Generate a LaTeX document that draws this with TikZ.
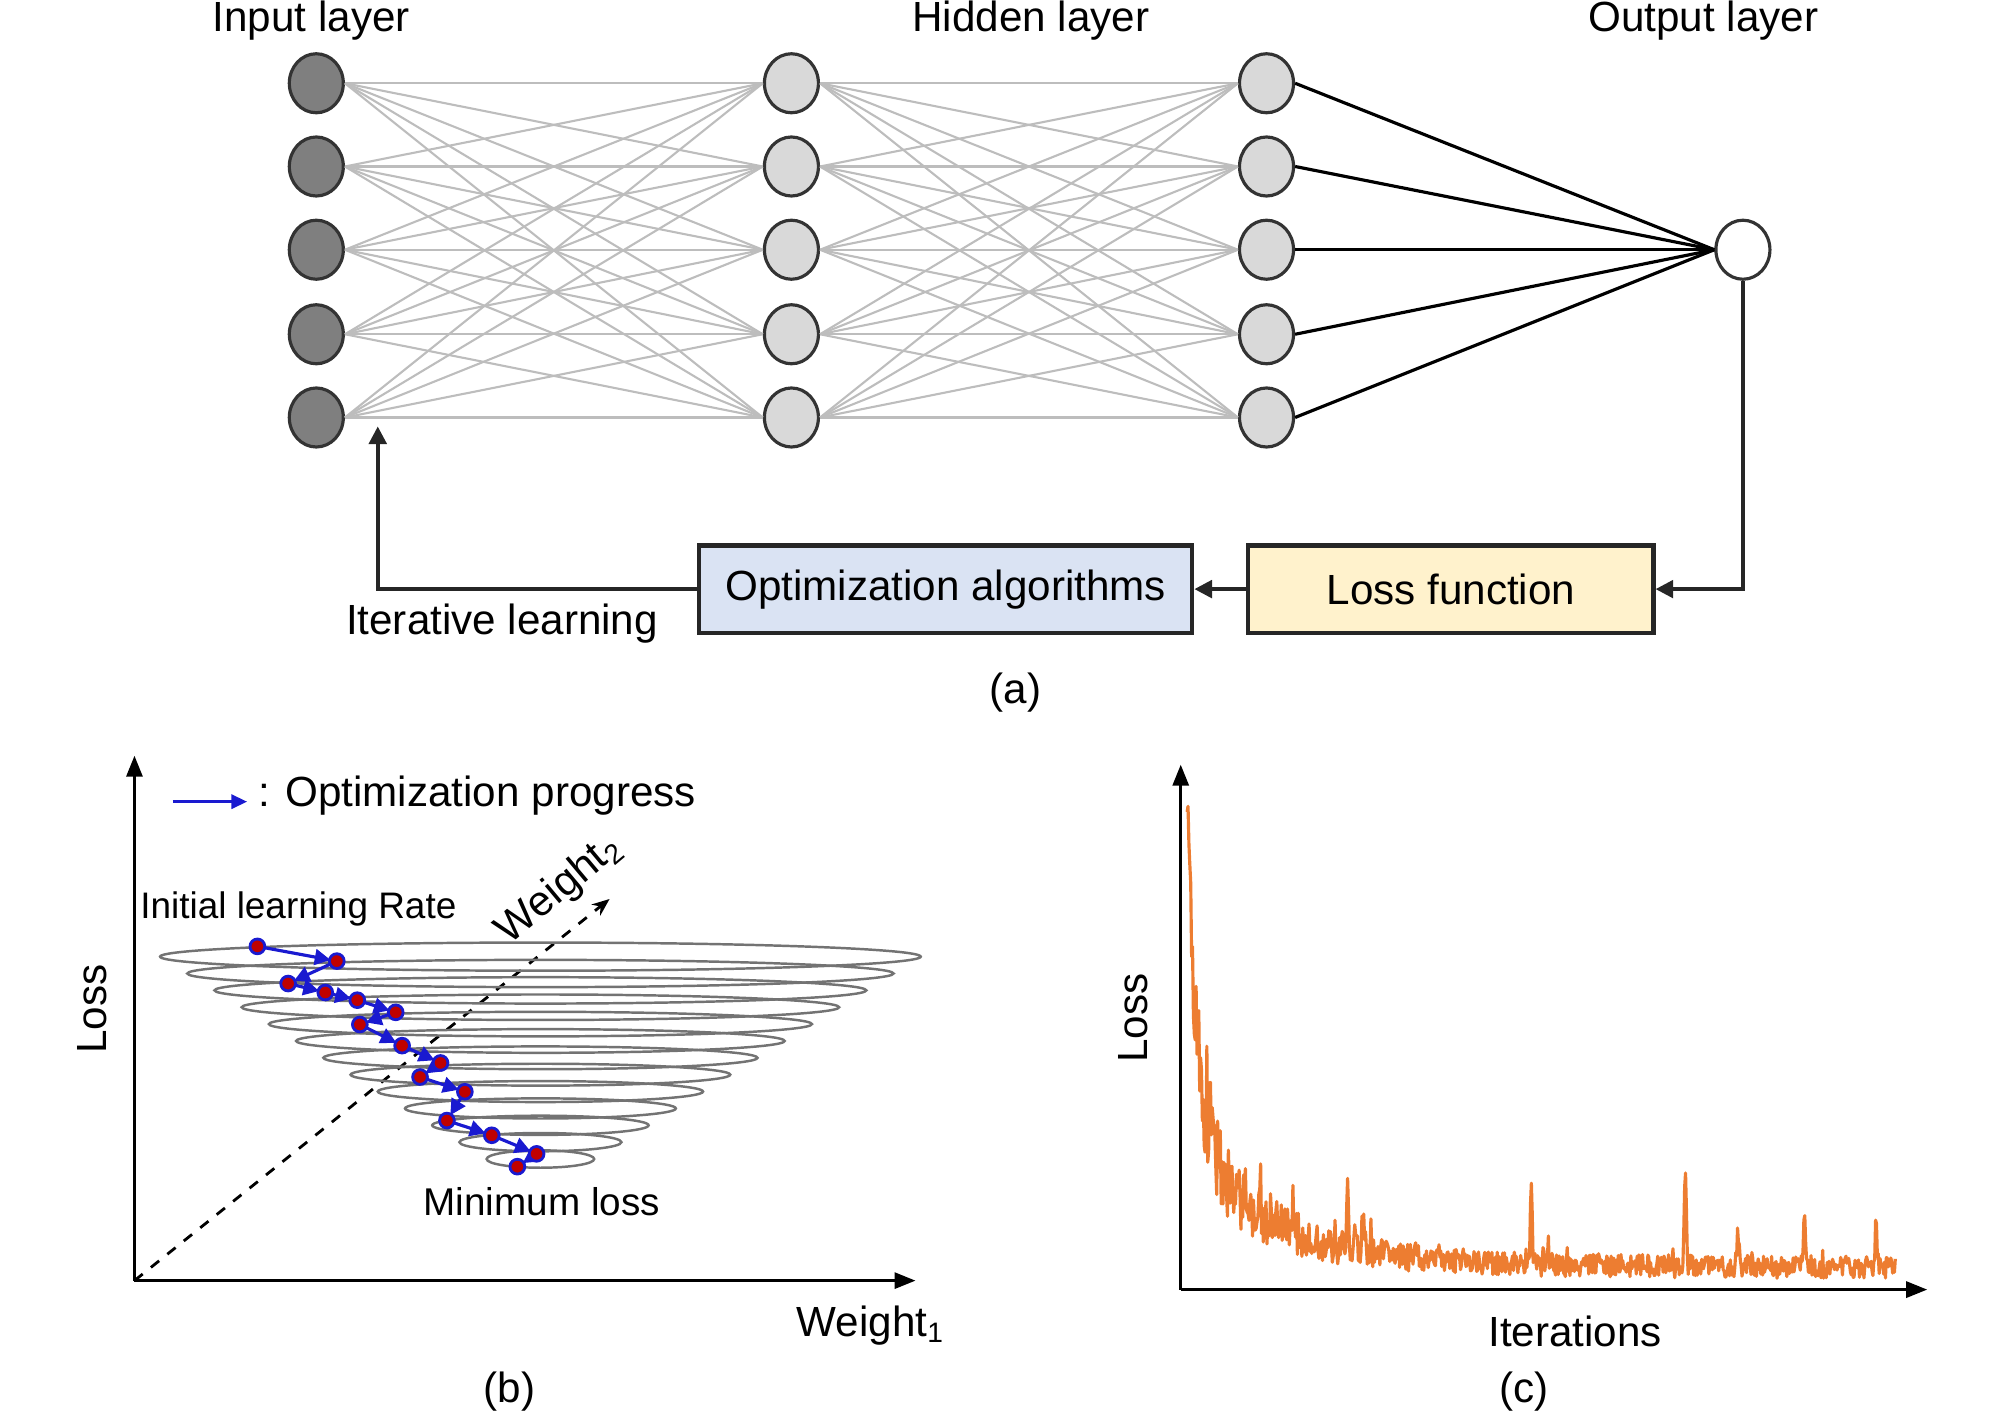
\documentclass[tikz,border=0pt]{standalone}
\usepackage{fontspec}
\setmainfont{Liberation Sans}
\usetikzlibrary{arrows.meta,shapes.geometric,calc}
\definecolor{inputfill}{HTML}{7F7F7F}
\definecolor{hidfill}{HTML}{D9D9D9}
\definecolor{conn}{HTML}{BDBDBD}
\definecolor{optfill}{HTML}{DAE3F3}
\definecolor{lossfill}{HTML}{FFF2CC}
\definecolor{curvecol}{HTML}{ED7D31}
\definecolor{progblue}{HTML}{1A1AD0}
\definecolor{dotred}{HTML}{C00000}
\begin{document}
\begin{tikzpicture}[x=0.012806cm,y=-0.012806cm,
  neuron/.style={ellipse, draw=black!80, line width=0.9pt, minimum width=0.54cm, minimum height=0.59cm, inner sep=0pt},
  innode/.style={neuron, fill=inputfill},
  hidnode/.style={neuron, fill=hidfill},
  outnode/.style={neuron, fill=white},
  wire/.style={draw=conn, line width=0.6pt},
  outwire/.style={draw=black, line width=0.9pt},
  procbox/.style={rectangle, draw=black!85, line width=1.2pt, minimum height=0.87cm, inner sep=0pt, font=\fontsize{12}{14}\selectfont},
  flow/.style={draw=black!85, line width=1pt, -{Triangle[length=5pt,width=5pt]}},
  lbl/.style={font=\fontsize{12}{14}\selectfont, inner sep=0pt},
  smalllbl/.style={font=\fontsize{10.5}{12}\selectfont, inner sep=0pt},
  axis/.style={draw=black, line width=1pt, -{Triangle[length=6pt,width=4.5pt]}},
  ring/.style={draw=black!55, line width=0.7pt},
  prog/.style={draw=progblue, line width=0.9pt, -{Triangle[length=4.5pt,width=4.5pt]}, shorten >=1.8pt},
  dot/.style={circle, fill=dotred, draw=progblue, line width=0.8pt, minimum size=4.2pt, inner sep=0pt},
  curveline/.style={draw=curvecol, line width=0.9pt, line join=round},
  declare function={sp(\x,\c,\h)=\h*exp(-(min(abs(\x-\c),9)/1.1)^2);}
]
\useasboundingbox (0,0) rectangle (1568,1106);

% ---------------- (a) network ----------------
\node[lbl] (tin) at (243,16) {Input layer};
\node[lbl] (thid) at (805,16) {Hidden layer};
\node[lbl] (tout) at (1330,16) {Output layer};

\foreach \j/\yy in {1/65,2/130,3/195,4/261,5/326} {
  \node[innode] (i\j) at (247,\yy) {};
  \node[hidnode] (h\j) at (618,\yy) {};
  \node[hidnode] (g\j) at (989,\yy) {};
}
\node[outnode] (o) at (1361,195) {};

\foreach \a in {1,...,5} {
  \foreach \b in {1,...,5} {
    \draw[wire] (i\a.east) -- (h\b.west);
    \draw[wire] (h\a.east) -- (g\b.west);
  }
  \draw[outwire] (g\a.east) -- (o.west);
}

\node[procbox, fill=optfill, minimum width=4.93cm] (opt) at (738.5,460) {Optimization algorithms};
\node[procbox, fill=lossfill, minimum width=4.05cm] (loss) at (1133,460) {Loss function};
\coordinate (fb) at (295,333);
\draw[flow] (o.south) |- (loss.east);
\draw[flow] (loss.west) -- (opt.east);
\draw[flow] (opt.west) -| (fb);
\node[lbl] (itl) at (392,487) {Iterative learning};
\node[lbl] (capa) at (793,541) {(a)};

% ---------------- (b) loss surface ----------------
\coordinate (bo) at (105,1000);
\coordinate (by) at (105,590);
\coordinate (bx) at (715,1000);
\coordinate (bw) at (476,702);
\draw[axis] (bo) -- (by);
\draw[axis] (bo) -- (bx);
\draw[dashed, line width=0.8pt, -{Stealth[length=5pt,width=4pt]}] (bo) -- (bw);

\foreach \k in {0,...,12} {
  \pgfmathsetmacro{\cy}{747+\k*13.17}
  \pgfmathsetmacro{\rx}{297-\k*21.25}
  \pgfmathsetmacro{\ry}{11-\k*0.35}
  \draw[ring] (422,\cy) ellipse [x radius=\rx, y radius=\ry];
}

\foreach \n/\px/\py in {1/201/739,2/263/750.5,3/225/768,4/254/775,5/279/781,6/309/790.5,7/281/800,8/314/816.5,9/344/830,10/328/841,11/363/852.5,12/349/875,13/384/886.5,14/419/901,15/404/911}
  \coordinate (p\n) at (\px,\py);
\foreach \a/\b in {1/2,2/3,3/4,4/5,5/6,6/7,7/8,8/9,9/10,10/11,11/12,12/13,13/14,14/15}
  \draw[prog] (p\a) -- (p\b);
\foreach \n in {1,...,15}
  \node[dot] (d\n) at (p\n) {};

\coordinate (lg1) at (135,626);
\coordinate (lg2) at (193,626);
\draw[draw=progblue, line width=0.9pt, -{Triangle[length=4.5pt,width=4pt]}] (lg1) -- (lg2);
\node[lbl, anchor=west] (lgt) at (201,621) {: Optimization progress};
\node[smalllbl] (ilr) at (233,710) {Initial learning Rate};
\node[font=\fontsize{11}{13}\selectfont, inner sep=0pt] (ml) at (423,938) {Minimum loss};
\node[lbl, rotate=40] (w2) at (437,695) {Weight\textsubscript{2}};
\node[lbl] (w1) at (680,1035) {Weight\textsubscript{1}};
\node[lbl, rotate=90] (bl) at (72,788) {Loss};
\node[lbl] (capb) at (398,1087) {(b)};

% ---------------- (c) loss curve ----------------
\coordinate (co) at (922,1007);
\coordinate (cy) at (922,597);
\coordinate (cx) at (1505,1007);
\draw[axis] (co) -- (cy);
\draw[axis] (co) -- (cx);
\pgfmathsetseed{11}
\draw[curveline] (927,634)
  \foreach \i in {1,...,790} {
    -- ({927+\i*0.7},
        {1007 - (8 + 250*exp(-min(\i*0.7/7,15)) + 70*exp(-min(\i*0.7/45,15)) + 14*exp(-min(\i*0.7/150,15))
          + (18+70*exp(-min(\i*0.7/60,15)))*rnd + (rnd>0.93)*22*rnd
          + sp(927+\i*0.7,945.4,45) + sp(927+\i*0.7,983.6,40) + sp(927+\i*0.7,1052.4,45)
          + sp(927+\i*0.7,1065,25) + sp(927+\i*0.7,1195.7,62) + sp(927+\i*0.7,1316,75)
          + sp(927+\i*0.7,1357,28) + sp(927+\i*0.7,1409,45) + sp(927+\i*0.7,1465,35))})
  };
\node[lbl, rotate=90] (cl) at (885,795) {Loss};
\node[lbl] (iter) at (1230,1040) {Iterations};
\node[lbl] (capc) at (1190,1087) {(c)};
\end{tikzpicture}
\end{document}
